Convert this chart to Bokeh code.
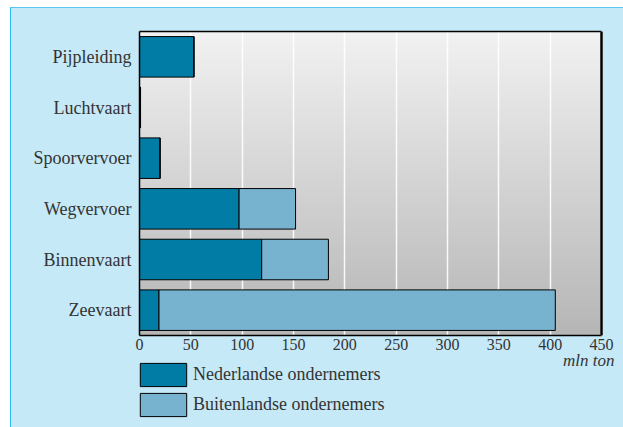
import numpy as np
from bokeh.plotting import figure
from bokeh.layouts import column
from bokeh.models import (ColumnDataSource, FactorRange, Range1d, Legend, LegendItem, Label,
                          FixedTicker, LinearAxis, Span)
from bokeh.embed import file_html
from bokeh.resources import INLINE

# ---- data (mln ton) ----
categories = ["Zeevaart", "Binnenvaart", "Wegvervoer", "Spoorvervoer", "Luchtvaart", "Pijpleiding"]
nederlandse = [19, 119, 97, 20, 1, 53]
buitenlandse = [386, 65, 55, 0, 0, 0]
x_ticks = [0, 50, 100, 150, 200, 250, 300, 350, 400, 450]
series_labels = ["Nederlandse ondernemers", "Buitenlandse ondernemers"]
unit_label = "mln ton"

totals = [a + b for a, b in zip(nederlandse, buitenlandse)]
src = ColumnDataSource(dict(cat=categories, nl=nederlandse, bu=buitenlandse, tot=totals,
                            zero=[0] * len(categories)))

FONT = "Liberation Serif"
TXT = "#333333"
PANEL = "#c6e9f8"
C_NL = "#007ca5"
C_BU = "#77b3cf"

X_MAX = x_ticks[-1]
FRAME_W = 612 - 128 - 9          # drawing frame, a little wider than the axis (room for unit label)
X_END = X_MAX * FRAME_W / 462.0  # keeps 0..450 on 462 px

p = figure(width=612, height=344,
           y_range=FactorRange(factors=categories, range_padding=0),
           x_range=Range1d(0, X_END), output_backend="svg", toolbar_location=None,
           min_border_left=128, min_border_top=23, min_border_right=9, min_border_bottom=0,
           border_fill_color=PANEL, background_fill_color=PANEL, outline_line_color=None)

# gradient background of the plot area
n = 256
g = np.linspace(182, 242, n).astype(np.uint32)
img = (255 << 24) | (g << 16) | (g << 8) | g
img = img.reshape(n, 1)
r_img = p.image_rgba(image=[img], x=0, y=0, dw=X_MAX, dh=len(categories))
r_img.level = "image"

r_nl = p.hbar(y="cat", left="zero", right="nl", height=0.8, source=src,
              fill_color=C_NL, line_color="black", line_width=1)
r_bu = p.hbar(y="cat", left="nl", right="tot", height=0.8, source=src,
              fill_color=C_BU, line_color="black", line_width=1)

# grid
p.ygrid.grid_line_color = None
p.xgrid.ticker = FixedTicker(ticks=x_ticks)
p.xgrid.grid_line_color = "white"
p.xgrid.grid_line_width = 1.5
p.xgrid.grid_line_alpha = 0.9

# right edge of the plot area (with a slight shadow)
p.add_layout(Span(location=X_MAX, dimension="height", line_color="#555555", line_width=3))
p.add_layout(Span(location=X_MAX, dimension="height", line_color="black", line_width=1.5))

# axes
p.xaxis.bounds = (0, X_MAX)
p.xaxis.ticker = FixedTicker(ticks=x_ticks)
p.xaxis.major_tick_out = 0
p.xaxis.major_tick_in = 0
p.xaxis.minor_tick_out = 0
p.xaxis.minor_tick_in = 0
p.xaxis.major_label_standoff = 3
p.xaxis.axis_line_color = "black"
p.xaxis.axis_line_width = 1.5
p.xaxis.major_label_text_font = FONT
p.xaxis.major_label_text_font_size = "16px"
p.xaxis.major_label_text_color = TXT

p.yaxis.major_tick_out = 0
p.yaxis.major_tick_in = 0
p.yaxis.major_label_standoff = 8
p.yaxis.axis_line_color = "black"
p.yaxis.axis_line_width = 1.5
p.yaxis.major_label_text_font = FONT
p.yaxis.major_label_text_font_size = "18px"
p.yaxis.major_label_text_color = TXT

# top edge of the plot area (an axis line without ticks or labels), added after styling p.xaxis
top_axis = LinearAxis(ticker=FixedTicker(ticks=[]), bounds=(0, X_MAX),
                      axis_line_color="black", axis_line_width=1.5,
                      major_tick_out=0, major_tick_in=0, minor_tick_out=0, minor_tick_in=0,
                      major_label_text_font_size="0px")
p.add_layout(top_axis, "above")

# ---- lower strip: unit label and legend ----
p2 = figure(width=612, height=75, y_range=FactorRange(factors=categories),
            x_range=Range1d(0, X_END), output_backend="svg", toolbar_location=None,
            x_axis_type=None, y_axis_type=None,
            min_border_left=128, min_border_right=9, min_border_top=0, min_border_bottom=0,
            border_fill_color=PANEL, background_fill_color=PANEL, outline_line_color=None)
p2.grid.visible = False
l_nl = p2.hbar(y="cat", left="zero", right="nl", height=0.8, source=src,
               fill_color=C_NL, line_color="black", line_width=1, visible=False)
l_bu = p2.hbar(y="cat", left="nl", right="tot", height=0.8, source=src,
               fill_color=C_BU, line_color="black", line_width=1, visible=False)

unit = Label(x=FRAME_W, y=77, x_units="screen", y_units="screen", text=unit_label,
             text_align="right", text_baseline="top", text_font=FONT,
             text_font_style="italic", text_font_size="17px", text_color=TXT)
p2.add_layout(unit)

legend = Legend(items=[LegendItem(label=series_labels[0], renderers=[l_nl]),
                       LegendItem(label=series_labels[1], renderers=[l_bu])],
                location=(-5, 8), orientation="vertical",
                glyph_width=58, glyph_height=29, spacing=1, padding=0, margin=0,
                label_standoff=1, label_text_font=FONT, label_text_font_size="18px",
                label_text_color=TXT, border_line_alpha=0, background_fill_alpha=0,
                inactive_fill_alpha=0)
p2.add_layout(legend, "center")

layout = column(p, p2, spacing=0, margin=(7, 0, 0, 10),
                styles={"border-top": "1px solid #5cc6ee", "border-left": "1px solid #2ab6ee",
                        "background-color": PANEL})

open("out.html", "w").write(file_html(layout, INLINE))
